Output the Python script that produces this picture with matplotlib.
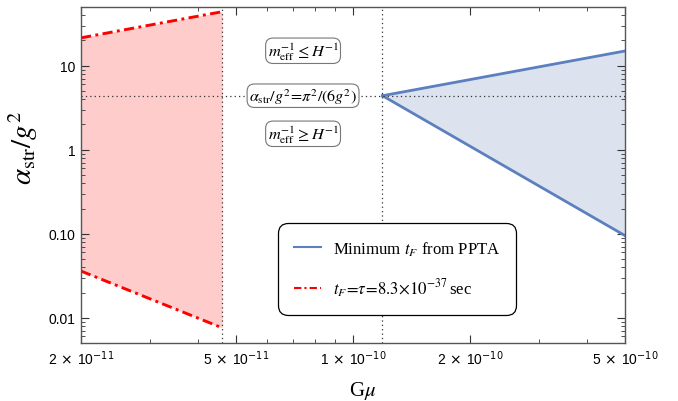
import numpy as np
import matplotlib
matplotlib.use("Agg")
import matplotlib.pyplot as plt
from matplotlib.ticker import FixedLocator, NullFormatter, LogLocator
from matplotlib.lines import Line2D

plt.rcParams['mathtext.fontset'] = 'stix'
plt.rcParams['font.family'] = ['Liberation Serif', 'DejaVu Serif']

# Data
red_x = [2e-11, 4.61e-11]
red_upper = [21.5, 44.0]
red_lower = [0.036, 0.0076]

blue_x = [1.19e-10, 5e-10]
blue_upper = [4.4, 15.0]
blue_lower = [4.4, 0.095]

h_level = 4.4
v_lines = [4.61e-11, 1.19e-10]

xticks = [2e-11, 5e-11, 1e-10, 2e-10, 5e-10]
xticklabels = [r'2$\,\times\,$10$^{-11}$', r'5$\,\times\,$10$^{-11}$', r'1$\,\times\,$10$^{-10}$',
               r'2$\,\times\,$10$^{-10}$', r'5$\,\times\,$10$^{-10}$']
yticks = [0.01, 0.1, 1, 10]
yticklabels = ['0.01', '0.10', '1', '10']

fig = plt.figure(figsize=(6.78, 4.02), dpi=100)
ax = fig.add_axes([0.1195, 0.144, 0.8025, 0.836])
ax.set_xscale('log')
ax.set_yscale('log')
ax.set_xlim(2e-11, 5e-10)
ax.set_ylim(0.005, 50)

dashdot = (0, (3.5, 1.5, 1, 1.5))
ax.fill_between(red_x, red_lower, red_upper, color='#ffcccc', lw=0)
ax.plot(red_x, red_upper, color='red', ls=dashdot, lw=2.1)
ax.plot(red_x, red_lower, color='red', ls=dashdot, lw=2.1)

ax.fill_between(blue_x, blue_lower, blue_upper, color='#dde3ee', lw=0)
ax.plot(blue_x, blue_upper, color='#5b7fbf', lw=2)
ax.plot(blue_x, blue_lower, color='#5b7fbf', lw=2)

for v in v_lines:
    ax.axvline(v, color='#333333', ls=(0, (1, 2.5)), lw=0.9)
ax.axhline(h_level, color='#333333', ls=(0, (1, 2.5)), lw=0.9)

bbox = dict(boxstyle='round,pad=0.12,rounding_size=0.45', fc='white', ec='#777777', lw=0.8)
xc = 10**((np.log10(2e-11) + (303-81)/544*np.log10(25)))
ax.text(xc, 10**(1 + (67-52)/84), r'$m_{\rm eff}^{-1} \leq H^{-1}$', ha='center', va='center', fontsize=11.8, bbox=bbox)
ax.text(xc, h_level, r'$\alpha_{\rm str}/g^2\!=\!\pi^2/(6g^2)$', ha='center', va='center', fontsize=11.6, bbox=bbox)
ax.text(xc, 10**(1 - (135-67)/84), r'$m_{\rm eff}^{-1} \geq H^{-1}$', ha='center', va='center', fontsize=11.8, bbox=bbox)

# Legend
handles = [Line2D([], [], color='#5b7fbf', lw=1.5),
           Line2D([], [], color='red', ls=dashdot, lw=1.5)]
labels = [r'Minimum $t_F$ from PPTA', r'$t_F\!=\!\tau\!=\!8.3\!\times\!10^{-37}\,$sec']
leg = ax.legend(handles, labels, loc='center', bbox_to_anchor=(0.5815, 0.22), fontsize=12.1,
                frameon=True, fancybox=True, edgecolor='black', framealpha=1,
                borderpad=0.95, labelspacing=1.15, handlelength=1.6, handletextpad=0.7,
                borderaxespad=0)
leg.get_frame().set_linewidth(0.9)
leg.get_frame().set_boxstyle('round,pad=0,rounding_size=0.6')

ax.xaxis.set_major_locator(FixedLocator(xticks))
ax.set_xticklabels(xticklabels)
ax.xaxis.set_minor_locator(LogLocator(base=10, subs=np.arange(1, 10)))
ax.xaxis.set_minor_formatter(NullFormatter())
ax.yaxis.set_major_locator(FixedLocator(yticks))
ax.set_yticklabels(yticklabels)
ax.yaxis.set_minor_locator(LogLocator(base=10, subs=np.arange(1, 10)))
ax.yaxis.set_minor_formatter(NullFormatter())

ax.tick_params(which='both', direction='in', top=True, right=True, colors='#333333')
ax.tick_params(which='major', length=6, width=0.8, labelsize=10, labelcolor='black', pad=4)
ax.tick_params(which='minor', length=3, width=0.6)
for lab in ax.get_xticklabels() + ax.get_yticklabels():
    lab.set_family('Liberation Sans')
    lab.set_math_fontfamily('dejavusans')
for s in ax.spines.values():
    s.set_color('#555555')
    s.set_linewidth(1.0)

ax.set_xlabel(r'G$\mu$', fontsize=15)
ax.xaxis.set_label_coords(0.517, -0.107)
ax.set_ylabel(r'$\alpha_{\rm str}/g^2$', fontsize=21)
ax.yaxis.set_label_coords(-0.075, 0.583)

fig.savefig('out.png', dpi=100)
